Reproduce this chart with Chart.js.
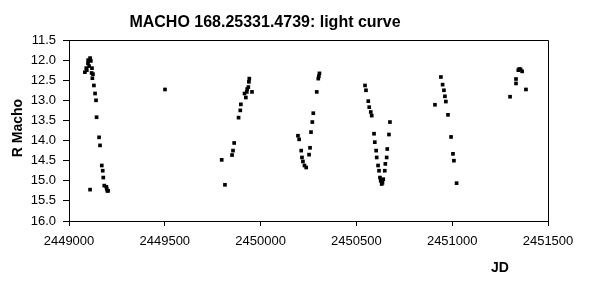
<!DOCTYPE html>
<html>
<head>
<meta charset="utf-8">
<script src="https://cdn.jsdelivr.net/npm/chart.js@4/dist/chart.umd.min.js"></script>
<style>
  html, body { margin: 0; padding: 0; background: #fff; }
  #wrap { width: 589px; height: 293px; }
</style>
</head>
<body>
<div id="wrap"><canvas id="lightCurve" width="589" height="293"></canvas></div>
<script>
// 관측 데이터 (JD, R 등급) - 그림에서 읽은 값
const jdValues = [
  2449110, 2449114, 2449099, 2449093, 2449083, 2449118, 2449122, 2449130, 2449136, 2449141,
  2449144, 2449157, 2449162, 2449171, 2449176, 2449179, 2449184, 2449197, 2449204, 2449110,
  2449100, 2449105, 2449090, 2449120, 2449125, 2449195, 2449200,
  2449501,
  2449797, 2449814, 2449851, 2449856, 2449862, 2449885, 2449894, 2449897, 2449923, 2449916,
  2449928, 2449955, 2449936, 2449939, 2449941, 2449930,
  2450195, 2450201, 2450212, 2450216, 2450221, 2450229, 2450238, 2450253, 2450258, 2450263,
  2450270, 2450275, 2450293, 2450301, 2450307, 2450304,
  2450545, 2450550, 2450562, 2450567, 2450575, 2450580, 2450592, 2450596, 2450603, 2450606,
  2450613, 2450618, 2450623, 2450632, 2450640, 2450648, 2450651, 2450658, 2450661, 2450670,
  2450675, 2450627, 2450636,
  2450910, 2450941, 2450950, 2450957, 2450962, 2450967, 2450978, 2450994, 2451004, 2451009,
  2451023,
  2451302, 2451333, 2451333, 2451345, 2451357, 2451365, 2451385, 2451350
];
const magValues = [
  11.95, 12.02, 12.08, 12.25, 12.30, 12.32, 12.45, 12.63, 12.83, 13.00,
  13.42, 13.92, 14.12, 14.62, 14.75, 14.92, 15.12, 15.20, 15.25, 15.22,
  12.00, 12.15, 12.20, 12.20, 12.35, 15.15, 15.25,
  12.73,
  14.48, 15.10, 14.36, 14.25, 14.06, 13.43, 13.25, 13.10, 12.93, 12.83,
  12.79, 12.79, 12.67, 12.54, 12.46, 12.72,
  13.88, 13.97, 14.25, 14.42, 14.52, 14.62, 14.67, 14.35, 14.18, 13.79,
  13.54, 13.32, 12.79, 12.46, 12.33, 12.40,
  12.63, 12.75, 13.02, 13.17, 13.29, 13.38, 13.83, 14.04, 14.25, 14.42,
  14.62, 14.75, 14.92, 15.08, 14.96, 14.75, 14.58, 14.42, 14.21, 13.85,
  13.54, 15.00, 15.05,
  13.11, 12.42, 12.61, 12.75, 12.90, 13.03, 13.36, 13.91, 14.33, 14.50,
  15.06,
  12.91, 12.58, 12.47, 12.25, 12.23, 12.28, 12.73, 12.22
];

// 축 눈금
const xTicks = [2449000, 2449500, 2450000, 2450500, 2451000, 2451500];
const yTicks = [11.5, 12.0, 12.5, 13.0, 13.5, 14.0, 14.5, 15.0, 15.5, 16.0];

const titleText = 'MACHO 168.25331.4739: light curve';
const xTitle = 'JD';
const yTitle = 'R Macho';

const points = jdValues.map((jd, i) => ({ x: jd, y: magValues[i] }));

// 제목, 축 이름, 외곽 박스 그리기
const labelsPlugin = {
  id: 'labels',
  afterDraw(chart) {
    const { ctx, chartArea } = chart;
    ctx.save();
    ctx.strokeStyle = '#000';
    ctx.lineWidth = 1;
    ctx.beginPath();
    ctx.moveTo(chartArea.left, chartArea.top + 0.5);
    ctx.lineTo(chartArea.right + 0.5, chartArea.top + 0.5);
    ctx.lineTo(chartArea.right + 0.5, chartArea.bottom);
    ctx.stroke();

    ctx.fillStyle = '#000';
    ctx.textAlign = 'center';
    ctx.textBaseline = 'middle';
    ctx.font = 'bold 16px "Liberation Sans", Arial, sans-serif';
    ctx.fillText(titleText, 265, 23);

    ctx.font = 'bold 14px "Liberation Sans", Arial, sans-serif';
    ctx.fillText(xTitle, 500, 268);

    ctx.translate(18, 128);
    ctx.rotate(-Math.PI / 2);
    ctx.fillText(yTitle, 0, 0);
    ctx.restore();
  }
};

const tickFont = { family: '"Liberation Sans", Arial, sans-serif', size: 13 };

new Chart(document.getElementById('lightCurve'), {
  type: 'scatter',
  data: {
    datasets: [{
      label: 'R',
      data: points,
      pointStyle: 'rect',
      pointRadius: 2.6,
      pointHoverRadius: 2.6,
      borderWidth: 0,
      backgroundColor: '#000',
      borderColor: '#000'
    }]
  },
  options: {
    responsive: false,
    animation: false,
    events: [],
    layout: { padding: { top: 40, right: 41, bottom: 0, left: 0 } },
    plugins: {
      legend: { display: false },
      tooltip: { enabled: false }
    },
    scales: {
      x: {
        type: 'linear',
        min: xTicks[0],
        max: xTicks[xTicks.length - 1],
        afterBuildTicks: (scale) => { scale.ticks = xTicks.map(v => ({ value: v })); },
        afterFit: (scale) => { scale.height = 72; },
        border: { color: '#000', width: 1 },
        grid: { drawOnChartArea: false, drawTicks: true, tickLength: 5, color: '#000' },
        ticks: { color: '#000', font: tickFont, padding: 8, maxRotation: 0, callback: v => String(v) }
      },
      y: {
        type: 'linear',
        reverse: true,
        min: yTicks[0],
        max: yTicks[yTicks.length - 1],
        afterBuildTicks: (scale) => { scale.ticks = yTicks.map(v => ({ value: v })); },
        afterFit: (scale) => { scale.width = 69; },
        border: { color: '#000', width: 1 },
        grid: { drawOnChartArea: false, drawTicks: true, tickLength: 6, color: '#000' },
        ticks: { color: '#000', font: tickFont, padding: 7, callback: v => Number(v).toFixed(1) }
      }
    }
  },
  plugins: [labelsPlugin]
});
</script>
</body>
</html>
